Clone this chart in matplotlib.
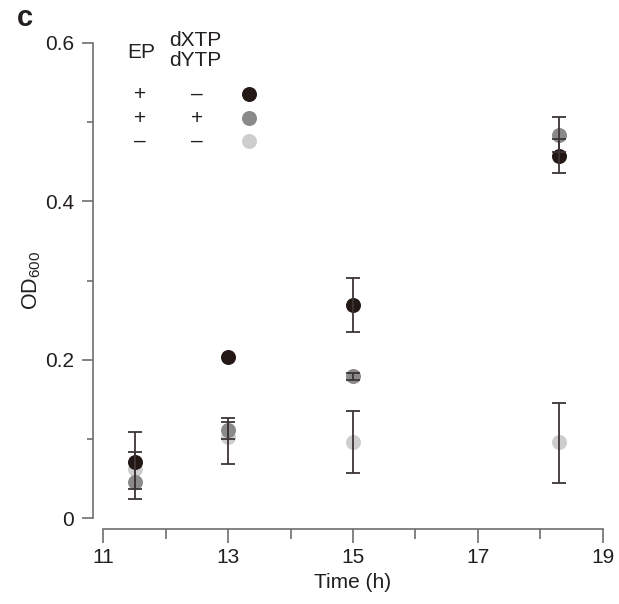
import matplotlib
matplotlib.use("Agg")
import matplotlib.pyplot as plt
import numpy as np
from matplotlib.lines import Line2D

plt.rcParams['font.family'] = ['Liberation Sans', 'DejaVu Sans']
plt.rcParams['mathtext.fontset'] = 'custom'
plt.rcParams['mathtext.rm'] = 'Liberation Sans'

# ---- data ----
times = [11.5, 13, 15, 18.3]

black_vals = [0.071, 0.204, 0.269, 0.457]
black_err_lo = [0.034, 0.0, 0.034, 0.021]
black_err_hi = [0.038, 0.0, 0.034, 0.021]

dark_vals = [0.046, 0.111, 0.179, 0.484]
dark_err_lo = [0.022, 0.011, 0.004, 0.022]
dark_err_hi = [0.038, 0.011, 0.004, 0.022]

light_vals = [0.062, 0.103, 0.096, 0.096]
light_err_lo = [0.0, 0.0345, 0.039, 0.051]
light_err_hi = [0.0, 0.024, 0.039, 0.050]

xticks_major = [11, 13, 15, 17, 19]
yticks_major = [0, 0.2, 0.4, 0.6]
ytick_labels = ['0', '0.2', '0.4', '0.6']

legend_rows = [('+', '\u2013'), ('+', '+'), ('\u2013', '\u2013')]

# ---- style ----
W, H = 619, 604
c_black = '#231815'
c_dark = '#8a8a8a'
c_light = '#cdcdcd'
c_err = '#3d3535'
c_axis = '#6e6e6e'
c_text = '#231f20'
fs = 15

fig = plt.figure(figsize=(W / 100, H / 100), dpi=100)
ax = fig.add_axes([103.3 / W, 1 - 518.3 / H, (602.7 - 103.3) / W, (518.3 - 42.7) / H])
ax.set_xlim(11, 19)
ax.set_ylim(0, 0.6)

ms = 10.8
series = [(light_vals, light_err_lo, light_err_hi, c_light, 3),
          (dark_vals, dark_err_lo, dark_err_hi, c_dark, 4),
          (black_vals, black_err_lo, black_err_hi, c_black, 5)]
for vals, lo, hi, col, z in series:
    ax.plot(times, vals, 'o', color=col, ms=ms, mec='none', zorder=z, clip_on=False)
for vals, lo, hi, col, z in series:
    lo_a = np.array(lo)
    hi_a = np.array(hi)
    mask = (lo_a + hi_a) > 0
    ax.errorbar(np.array(times)[mask], np.array(vals)[mask],
                yerr=[lo_a[mask], hi_a[mask]], fmt='none', ecolor=c_err,
                elinewidth=1.3, capsize=4.7, capthick=1.3, zorder=10, clip_on=False)

# spines
for s in ['top', 'right']:
    ax.spines[s].set_visible(False)
ax.spines['left'].set_position(('outward', 7.2))
ax.spines['bottom'].set_position(('outward', 7.7))
for s in ['left', 'bottom']:
    ax.spines[s].set_color(c_axis)
    ax.spines[s].set_linewidth(1.2)

ax.set_xticks(xticks_major)
ax.set_xticks([12, 14, 16, 18], minor=True)
ax.set_yticks(yticks_major)
ax.set_yticklabels(ytick_labels)
ax.set_yticks([0.1, 0.3, 0.5], minor=True)
ax.tick_params(axis='x', which='major', length=10, width=1.2, color=c_axis,
               labelsize=fs, labelcolor=c_text, pad=4)
ax.tick_params(axis='x', which='minor', length=7, width=1.2, color=c_axis)
ax.tick_params(axis='y', which='major', length=8, width=1.2, color=c_axis,
               labelsize=fs, labelcolor=c_text, pad=6)
ax.tick_params(axis='y', which='minor', length=4.5, width=1.2, color=c_axis)

ax.set_xlabel('Time (h)', fontsize=fs, color=c_text, labelpad=4)
ax.set_ylabel('OD$_{\\mathregular{600}}$', fontsize=15.5, color=c_text, labelpad=1)

# panel label
fig.text(17 / W, 1 - 26 / H, 'c', fontsize=21, fontweight='heavy', color=c_text,
         ha='left', va='baseline')

# legend block
fig.text(141 / W, 1 - 53 / H, 'EP', fontsize=fs, color=c_text, ha='center', va='center')
fig.text(195 / W, 1 - 40 / H, 'dXTP', fontsize=fs, color=c_text, ha='center', va='center')
fig.text(195 / W, 1 - 60 / H, 'dYTP', fontsize=fs, color=c_text, ha='center', va='center')
row_y = [94, 118, 141]
dot_cols = [c_black, c_dark, c_light]
for (a, b), yy, dc in zip(legend_rows, row_y, dot_cols):
    fig.text(140 / W, 1 - yy / H, a, fontsize=fs, color=c_text, ha='center', va='center')
    fig.text(197 / W, 1 - yy / H, b, fontsize=fs, color=c_text, ha='center', va='center')
    fig.add_artist(Line2D([249.3 / W], [1 - yy / H], marker='o', ms=ms, color=dc,
                          mec='none', transform=fig.transFigure))

fig.savefig('out.png', dpi=100)
